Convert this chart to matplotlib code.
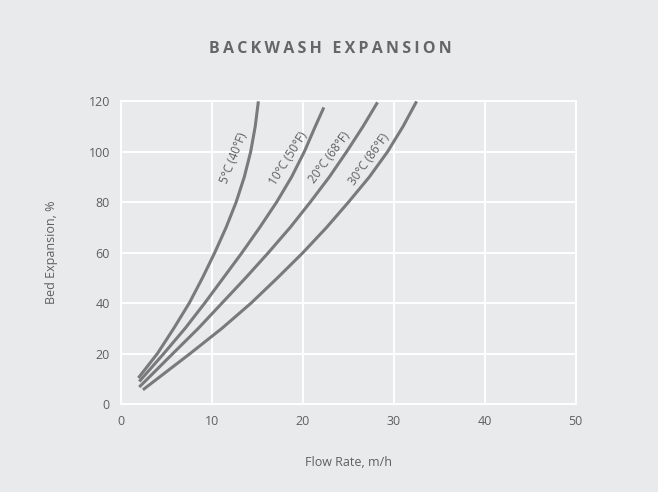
import matplotlib
matplotlib.use("Agg")
import matplotlib.pyplot as plt

plt.rcParams['font.family'] = ['Open Sans', 'DejaVu Sans']

# curves (flow rate m/h, bed expansion %)
labels = ["5°C (40°F)", "10°C (50°F)", "20°C (68°F)", "30°C (86°F)"]
flow_5 = [1.9, 4.0, 5.8, 7.5, 8.95, 10.3, 11.55, 12.65, 13.55, 14.25, 14.75, 15.1]
exp_5 = [10.3, 20, 30, 40, 50, 60, 70, 80, 90, 100, 110, 120]
flow_10 = [2.0, 4.7, 7.05, 9.2, 11.25, 13.3, 15.25, 17.1, 18.75, 20.15, 21.35, 22.3]
exp_10 = [8.9, 20, 30, 40, 50, 60, 70, 80, 90, 100, 110, 117.6]
flow_20 = [2.0, 5.7, 8.5, 11.1, 13.7, 16.2, 18.6, 20.8, 22.9, 24.8, 26.6, 28.2]
exp_20 = [6.7, 20, 30, 40, 50, 60, 70, 80, 90, 100, 110, 119.6]
flow_30 = [2.4, 7.6, 11.1, 14.3, 17.2, 20.0, 22.6, 25.0, 27.3, 29.3, 31.0, 32.5]
exp_30 = [5.6, 20, 30, 40, 50, 60, 70, 80, 90, 100, 110, 120]

# label anchor + angle for each curve
label_x = [12.4, 18.4, 22.9, 27.3]
label_y = [97.6, 97.2, 97.6, 97.2]
label_rot = [68.5, 57.8, 53.6, 54.4]

xticks = [0, 10, 20, 30, 40, 50]
yticks = [0, 20, 40, 60, 80, 100, 120]

bg = '#e9eaec'
line_c = '#7a7a7a'
txt_c = '#5f5f5f'

fig = plt.figure(figsize=(6.58, 4.92), dpi=100, facecolor=bg)
ax = fig.add_axes([0.184, 0.179, 0.691, 0.615], facecolor=bg)

series = [(flow_5, exp_5), (flow_10, exp_10), (flow_20, exp_20), (flow_30, exp_30)]
for (fx, fy) in series:
    ax.plot(fx, fy, color=line_c, lw=2.2, solid_capstyle='butt',
            solid_joinstyle='round', zorder=3)

for lab, lx, ly, r in zip(labels, label_x, label_y, label_rot):
    ax.text(lx, ly, lab, rotation=r, ha='center', va='center',
            fontsize=8.5, color=txt_c, rotation_mode='anchor', zorder=4)

ax.set_xlim(0, 50)
ax.set_ylim(0, 120)
ax.set_xticks(xticks)
ax.set_yticks(yticks)
ax.grid(True, color='white', lw=1.4, zorder=0)
ax.set_axisbelow(True)
for gl in ax.get_xgridlines() + ax.get_ygridlines():
    gl.set_clip_on(False)
for s in ax.spines.values():
    s.set_visible(False)
ax.tick_params(length=0, labelsize=9, colors=txt_c, pad=8)

ax.set_xlabel("Flow Rate, m/h", fontsize=9, color=txt_c, labelpad=20)
ax.set_ylabel("Bed Expansion, %", fontsize=9, color=txt_c, labelpad=22)

# letter-spaced title
title = "\u2009".join("BACKWASH EXPANSION")
fig.text(0.502, 0.900, title, ha='center', va='center',
         fontsize=11.5, fontweight='bold', color='#666666')

fig.savefig("out.png", dpi=100, facecolor=bg)
